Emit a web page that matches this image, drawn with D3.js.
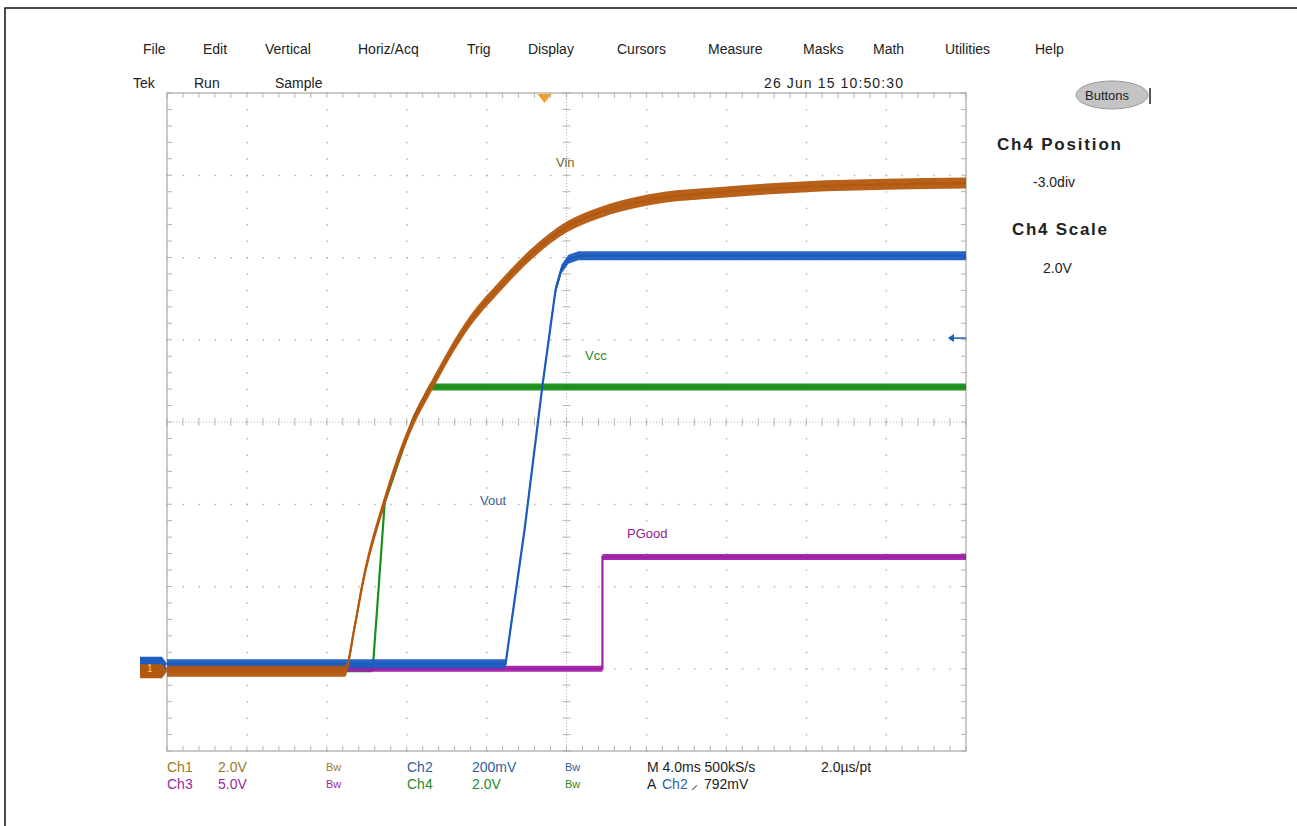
<!DOCTYPE html>
<html>
<head>
<meta charset="utf-8">
<script src="https://cdn.jsdelivr.net/npm/d3@7"></script>
<style>
  body { margin: 0; background: #fff; }
  text { font-family: "Liberation Sans", Arial, sans-serif; }
</style>
</head>
<body>
<div id="canvas"></div>
<script>
"use strict"

/* scope data, time in ms (trigger at 0), values in volts */
let vinTime  = [-20, -11.1, -10.6, -10.2, -9.1, -7.7, -6.85, -4.85, -3.35, -1.85, 0, 1.65, 4, 8, 12, 16, 20];
let vinVolts = [0, 0, 1.1, 2.15, 4.15, 6.05, 6.85, 8.5, 9.35, 10.1, 10.8, 11.15, 11.45, 11.65, 11.78, 11.84, 11.87];

let voutTime  = [-20, -3.05, -2.1, -1.2, -0.55, -0.25, 0.1, 0.6, 20];
let voutVolts = [0, 0, 0.326, 0.678, 0.909, 0.96, 0.984, 0.992, 0.992];

let vccTime  = [-20, -9.7, -9.4, -9.1, -7.7, -6.85, 20];
let vccVolts = [0, 0, 2.0, 4.05, 6.05, 6.85, 6.85];

let pgoodTime  = [-20, 1.8, 1.8, 20];
let pgoodVolts = [0, 0, 6.8, 6.8];

let menuItems = ["File", "Edit", "Vertical", "Horiz/Acq", "Trig", "Display", "Cursors", "Measure", "Masks", "Math", "Utilities", "Help"];
let timePerDiv = 4;        // ms/div
let triggerTime = -1.1;    // ms
let triggerLevel = 0.792;  // V on Ch2

/* canvas */
let drawing = d3.select("#canvas")
    .append("svg")
    .attr("width", 1297)
    .attr("height", 826);

drawing.append("rect").attr("width", 1297).attr("height", 826).attr("fill", "white");

// window edge
drawing.append("path")
    .attr("d", "M5,826 L5,8 L1297,8")
    .attr("fill", "none")
    .attr("stroke", "#111")
    .attr("stroke-width", 1.5);

/* scales */
let x = d3.scaleLinear().domain([-5 * timePerDiv, 5 * timePerDiv]).range([167, 966]);
let yDiv = d3.scaleLinear().domain([-4, 4]).range([751, 93]);

let channels = {
    ch1: { scale: 2.0, pos: -3.03, color: "#b3590f", band: 5.5, id: "1" },
    ch2: { scale: 0.2, pos: -2.94, color: "#1c5cc0", band: 4.5, id: "2" },
    ch3: { scale: 5.0, pos: -3.0,  color: "#a01fa8", band: 3,   id: "3" },
    ch4: { scale: 2.0, pos: -3.0,  color: "#1a8f1a", band: 3.5, id: "4" }
};
function yv(ch, v) { return yDiv(v / ch.scale + ch.pos); }

/* menu bar */
let menuX = [143, 203, 265, 358, 467, 528, 617, 708, 803, 873, 945, 1035];
drawing.selectAll(".menu").data(menuItems).enter().append("text")
    .attr("x", (d, i) => menuX[i])
    .attr("y", 54)
    .attr("font-size", 14)
    .attr("fill", "#222")
    .text(d => d);

let statusRow = drawing.append("g").attr("font-size", 14).attr("fill", "#222");
statusRow.append("text").attr("x", 133).attr("y", 88).text("Tek");
statusRow.append("text").attr("x", 194).attr("y", 88).text("Run");
statusRow.append("text").attr("x", 275).attr("y", 88).text("Sample");
statusRow.append("text").attr("x", 764).attr("y", 88).attr("textLength", 139).text("26 Jun 15 10:50:30");

/* graticule */
let grat = drawing.append("g");
let gridCol = "#b4b4b4";
let majorT = d3.range(-20, 20.01, timePerDiv);
let minorT = d3.range(-20, 20.01, timePerDiv / 5);
let majorD = d3.range(-4, 4.01, 1);
let minorD = d3.range(-4, 4.01, 0.2);

// dotted division lines
majorT.slice(1, -1).forEach(t => {
    if (t === 0) return;
    minorD.forEach(d => {
        grat.append("rect").attr("x", x(t) - 0.5).attr("y", yDiv(d) - 0.5)
            .attr("width", 1.5).attr("height", 1.5).attr("fill", gridCol);
    });
});
majorD.slice(1, -1).forEach(d => {
    if (d === 0) return;
    minorT.forEach(t => {
        grat.append("rect").attr("x", x(t) - 0.5).attr("y", yDiv(d) - 0.5)
            .attr("width", 1.5).attr("height", 1.5).attr("fill", gridCol);
    });
});

// centre lines with ticks
grat.append("line").attr("x1", x(-20)).attr("x2", x(20)).attr("y1", yDiv(0)).attr("y2", yDiv(0))
    .attr("stroke", gridCol).attr("stroke-dasharray", "1,2");
grat.append("line").attr("x1", x(0)).attr("x2", x(0)).attr("y1", yDiv(-4)).attr("y2", yDiv(4))
    .attr("stroke", gridCol).attr("stroke-dasharray", "1,2");
minorT.forEach(t => {
    grat.append("line").attr("x1", x(t)).attr("x2", x(t)).attr("y1", yDiv(0) - 4).attr("y2", yDiv(0) + 4).attr("stroke", gridCol);
    grat.append("line").attr("x1", x(t)).attr("x2", x(t)).attr("y1", yDiv(4)).attr("y2", yDiv(4) + 5).attr("stroke", gridCol);
    grat.append("line").attr("x1", x(t)).attr("x2", x(t)).attr("y1", yDiv(-4)).attr("y2", yDiv(-4) - 5).attr("stroke", gridCol);
});
minorD.forEach(d => {
    grat.append("line").attr("x1", x(0) - 4).attr("x2", x(0) + 4).attr("y1", yDiv(d)).attr("y2", yDiv(d)).attr("stroke", gridCol);
    grat.append("line").attr("x1", x(-20)).attr("x2", x(-20) + 5).attr("y1", yDiv(d)).attr("y2", yDiv(d)).attr("stroke", gridCol);
    grat.append("line").attr("x1", x(20)).attr("x2", x(20) - 5).attr("y1", yDiv(d)).attr("y2", yDiv(d)).attr("stroke", gridCol);
});

// frame
grat.append("rect")
    .attr("x", x(-20)).attr("y", yDiv(4))
    .attr("width", x(20) - x(-20)).attr("height", yDiv(-4) - yDiv(4))
    .attr("fill", "none").attr("stroke", "#a8a8a0").attr("stroke-width", 1.2);

/* traces */
function drawTrace(ch, times, volts, curve) {
    let pts = times.map((t, i) => [t, volts[i]]);
    let area = d3.area()
        .x(d => x(d[0]))
        .y0(d => yv(ch, d[1]) + ch.band)
        .y1(d => yv(ch, d[1]) - ch.band)
        .curve(curve);
    let line = d3.line()
        .x(d => x(d[0]))
        .y(d => yv(ch, d[1]))
        .curve(curve);
    drawing.append("path").attr("d", area(pts)).attr("fill", ch.color).attr("opacity", 0.95);
    drawing.append("path").attr("d", line(pts)).attr("fill", "none")
        .attr("stroke", ch.color).attr("stroke-width", 2.2);
}

drawTrace(channels.ch4, vccTime, vccVolts, d3.curveLinear);
drawTrace(channels.ch3, pgoodTime, pgoodVolts, d3.curveLinear);
drawTrace(channels.ch2, voutTime, voutVolts, d3.curveLinear);
drawTrace(channels.ch1, vinTime, vinVolts, d3.curveMonotoneX);

/* trace labels */
drawing.append("text").attr("x", 556).attr("y", 167).attr("font-size", 13).attr("fill", "#7a6a28").text("Vin");
drawing.append("text").attr("x", 585).attr("y", 360).attr("font-size", 13).attr("fill", "#2a8a2a").text("Vcc");
drawing.append("text").attr("x", 480).attr("y", 505).attr("font-size", 13).attr("fill", "#3a5f95").text("Vout");
drawing.append("text").attr("x", 627).attr("y", 538).attr("font-size", 13).attr("fill", "#962096").text("PGood");

/* ground markers (all sit near the same level, ch1 drawn on top) */
["ch4", "ch3", "ch2", "ch1"].forEach(k => {
    let ch = channels[k];
    let gy = yDiv(ch.pos);
    drawing.append("path")
        .attr("d", `M140,${gy - 7} L162,${gy - 7} L167,${gy} L162,${gy + 7} L140,${gy + 7} Z`)
        .attr("fill", ch === channels.ch1 ? "#b3590f" : ch.color);
});
let g1 = yDiv(channels.ch1.pos) - 3;
drawing.append("text").attr("x", 147).attr("y", g1 + 4).attr("font-size", 10)
    .attr("fill", "#f3d27a").text(channels.ch1.id);

/* trigger position and level */
let tx = x(triggerTime);
drawing.append("path")
    .attr("d", `M${tx - 7},${yDiv(4) + 1} L${tx + 7},${yDiv(4) + 1} L${tx},${yDiv(4) + 10} Z`)
    .attr("fill", "#f0a030");
let ty = yv(channels.ch2, triggerLevel);
drawing.append("line").attr("x1", x(20) - 16).attr("x2", x(20)).attr("y1", ty).attr("y2", ty)
    .attr("stroke", channels.ch2.color).attr("stroke-width", 1.5);
drawing.append("path")
    .attr("d", `M${x(20) - 18},${ty} L${x(20) - 12},${ty - 4} L${x(20) - 12},${ty + 4} Z`)
    .attr("fill", channels.ch2.color);

/* right panel */
drawing.append("ellipse").attr("cx", 1112).attr("cy", 95).attr("rx", 36).attr("ry", 14)
    .attr("fill", "#c4c4c4").attr("stroke", "#9a9a9a");
drawing.append("text").attr("x", 1085).attr("y", 100).attr("font-size", 13).attr("fill", "#222").text("Buttons");
drawing.append("line").attr("x1", 1150).attr("x2", 1150).attr("y1", 88).attr("y2", 104).attr("stroke", "#222").attr("stroke-width", 1.5);

drawing.append("text").attr("x", 997).attr("y", 150).attr("font-size", 17).attr("font-weight", "bold")
    .attr("fill", "#222").attr("textLength", 124).text("Ch4 Position");
drawing.append("text").attr("x", 1033).attr("y", 187).attr("font-size", 14).attr("fill", "#222").text("-3.0div");
drawing.append("text").attr("x", 1012).attr("y", 235).attr("font-size", 17).attr("font-weight", "bold")
    .attr("fill", "#222").attr("textLength", 95).text("Ch4 Scale");
drawing.append("text").attr("x", 1043).attr("y", 273).attr("font-size", 14).attr("fill", "#222").text("2.0V");

/* bottom readout */
let ch1Txt = "#9a7a2a", ch2Txt = "#2e5fa0", ch3Txt = "#9a2a9a", ch4Txt = "#2a8a2a";
let rd = drawing.append("g").attr("font-size", 14);
function rtext(xp, yp, s, col, size) {
    rd.append("text").attr("x", xp).attr("y", yp).attr("fill", col)
        .attr("font-size", size || 14).text(s);
}
rtext(167, 772, "Ch1", ch1Txt); rtext(218, 772, "2.0V", ch1Txt); rtext(326, 771, "Bw", ch1Txt, 11);
rtext(407, 772, "Ch2", ch2Txt); rtext(472, 772, "200mV", ch2Txt); rtext(565, 771, "Bw", ch2Txt, 11);
rtext(647, 772, "M 4.0ms 500kS/s", "#222"); rtext(821, 772, "2.0µs/pt", "#222");
rtext(167, 789, "Ch3", ch3Txt); rtext(218, 789, "5.0V", ch3Txt); rtext(326, 788, "Bw", ch3Txt, 11);
rtext(407, 789, "Ch4", ch4Txt); rtext(472, 789, "2.0V", ch4Txt); rtext(565, 788, "Bw", ch4Txt, 11);
rtext(647, 789, "A", "#222"); rtext(662, 789, "Ch2", ch2Txt); rtext(691, 789, "⸝", "#222"); rtext(704, 789, "792mV", "#222");
</script>
</body>
</html>
